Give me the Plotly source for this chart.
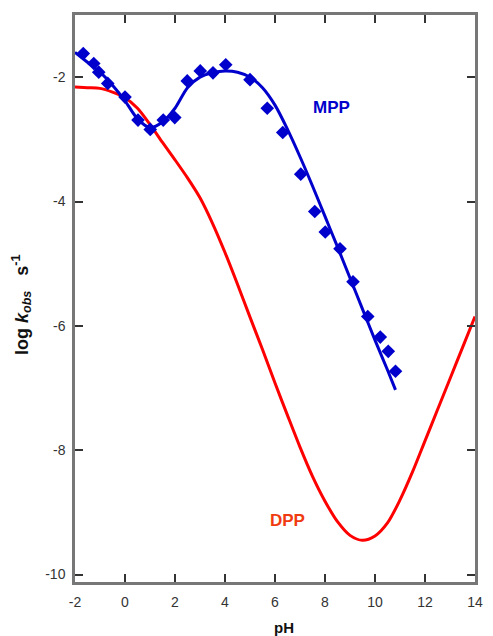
import plotly.graph_objects as go

# MPP experimental points (pH, log kobs)
mpp_ph = [-1.67, -1.25, -1.05, -0.69, 0.0, 0.52, 1.01, 1.53, 1.99, 2.49, 3.01, 3.52, 4.03,
          5.0, 5.69, 6.31, 7.03, 7.59, 8.01, 8.60, 9.12, 9.71, 10.21, 10.53, 10.82]
mpp_logk = [-1.62, -1.78, -1.92, -2.10, -2.32, -2.69, -2.84, -2.69, -2.65, -2.06, -1.90, -1.93, -1.80,
            -2.04, -2.50, -2.89, -3.56, -4.16, -4.49, -4.76, -5.29, -5.85, -6.18, -6.41, -6.73]

# MPP fitted curve
mpp_fit_ph = [-2.0, -1.5, -1.0, -0.5, 0.0, 0.5, 1.0, 1.5, 2.0, 2.5, 3.0, 3.5, 4.0, 4.5, 5.0,
              5.5, 6.0, 6.5, 7.0, 7.5, 8.0, 8.5, 9.0, 9.5, 10.0, 10.5, 10.82]
mpp_fit_logk = [-1.60, -1.76, -1.92, -2.13, -2.38, -2.67, -2.81, -2.72, -2.50, -2.17, -2.00, -1.93,
                -1.90, -1.92, -2.00, -2.17, -2.45, -2.84, -3.28, -3.75, -4.24, -4.73, -5.23,
                -5.73, -6.23, -6.71, -7.03]

# DPP fitted curve
dpp_ph = [-2.0, -1.5, -1.0, -0.5, 0.0, 0.5, 1.0, 1.5, 2.0, 2.5, 3.0, 3.5, 4.0, 4.5, 5.0, 5.5, 6.0,
          6.5, 7.0, 7.5, 8.0, 8.5, 9.0, 9.5, 10.0, 10.5, 11.0, 11.5, 12.0, 12.5, 13.0, 13.5, 14.0]
dpp_logk = [-2.16, -2.17, -2.18, -2.24, -2.33, -2.50, -2.76, -3.05, -3.33, -3.62, -3.94, -4.35,
            -4.82, -5.33, -5.86, -6.38, -6.92, -7.44, -7.95, -8.42, -8.82, -9.15, -9.37, -9.45,
            -9.38, -9.17, -8.80, -8.35, -7.85, -7.35, -6.85, -6.35, -5.85]

x_ticks = [-2, 0, 2, 4, 6, 8, 10, 12, 14]
x_tick_text = ["-2", "0", "2", "4", "6", "8", "10", "12", "14"]
y_ticks = [-10, -8, -6, -4, -2]
y_tick_text = ["-10", "-8", "-6", "-4", "-2"]

BLUE = "#0000CC"
RED = "#FF0000"

fig = go.Figure()
fig.add_trace(go.Scatter(x=dpp_ph, y=dpp_logk, mode="lines",
                         line=dict(color=RED, width=3, shape="spline", smoothing=0.8),
                         hoverinfo="skip"))
fig.add_trace(go.Scatter(x=mpp_fit_ph, y=mpp_fit_logk, mode="lines",
                         line=dict(color=BLUE, width=3, shape="spline", smoothing=0.8),
                         hoverinfo="skip"))
fig.add_trace(go.Scatter(x=mpp_ph, y=mpp_logk, mode="markers",
                         marker=dict(symbol="diamond", size=10.5, color=BLUE,
                                     line=dict(width=0))))

axis_common = dict(
    showgrid=False, zeroline=False, showline=True, linecolor="#777777", linewidth=2.5,
    mirror="ticks", ticks="inside", ticklen=8, tickwidth=1.5, tickcolor="#333333",
    tickfont=dict(family="Liberation Sans, Arial", size=14, color="#333333"),
)

fig.update_layout(
    width=493, height=636,
    margin=dict(l=75, r=10, t=15, b=54),
    paper_bgcolor="white", plot_bgcolor="white",
    showlegend=False,
    xaxis=dict(range=[-2, 14], tickvals=x_ticks, ticktext=x_tick_text,
               ticklabelstandoff=5, **axis_common),
    yaxis=dict(range=[-10.12, -1.0], tickvals=y_ticks, ticktext=y_tick_text,
               ticklabelstandoff=4, **axis_common),
    annotations=[
        dict(text="<b>MPP</b>", x=8.27, y=-2.49, xref="x", yref="y", showarrow=False,
             font=dict(family="Liberation Sans, Arial", size=17, color=BLUE)),
        dict(text="<b>DPP</b>", x=6.48, y=-9.13, xref="x", yref="y", showarrow=False,
             font=dict(family="Liberation Sans, Arial", size=17, color="#F03A10")),
        dict(text="<b>pH</b>", x=(288 - 75) / 408, y=-(627 - 582) / 567, xref="paper", yref="paper",
             xanchor="center", yanchor="middle",
             showarrow=False, font=dict(family="Liberation Sans, Arial", size=15, color="#111111")),
        dict(text="<b>log <i>k</i><sub><i>obs</i></sub>&nbsp;&nbsp; s<sup>-1</sup></b>",
             x=(20 - 75) / 408, y=1 - (305 - 15) / 567, xref="paper", yref="paper",
             xanchor="center", yanchor="middle",
             textangle=-90, showarrow=False,
             font=dict(family="Liberation Sans, Arial", size=18, color="#111111")),
    ],
)

fig.write_html("out.html")
